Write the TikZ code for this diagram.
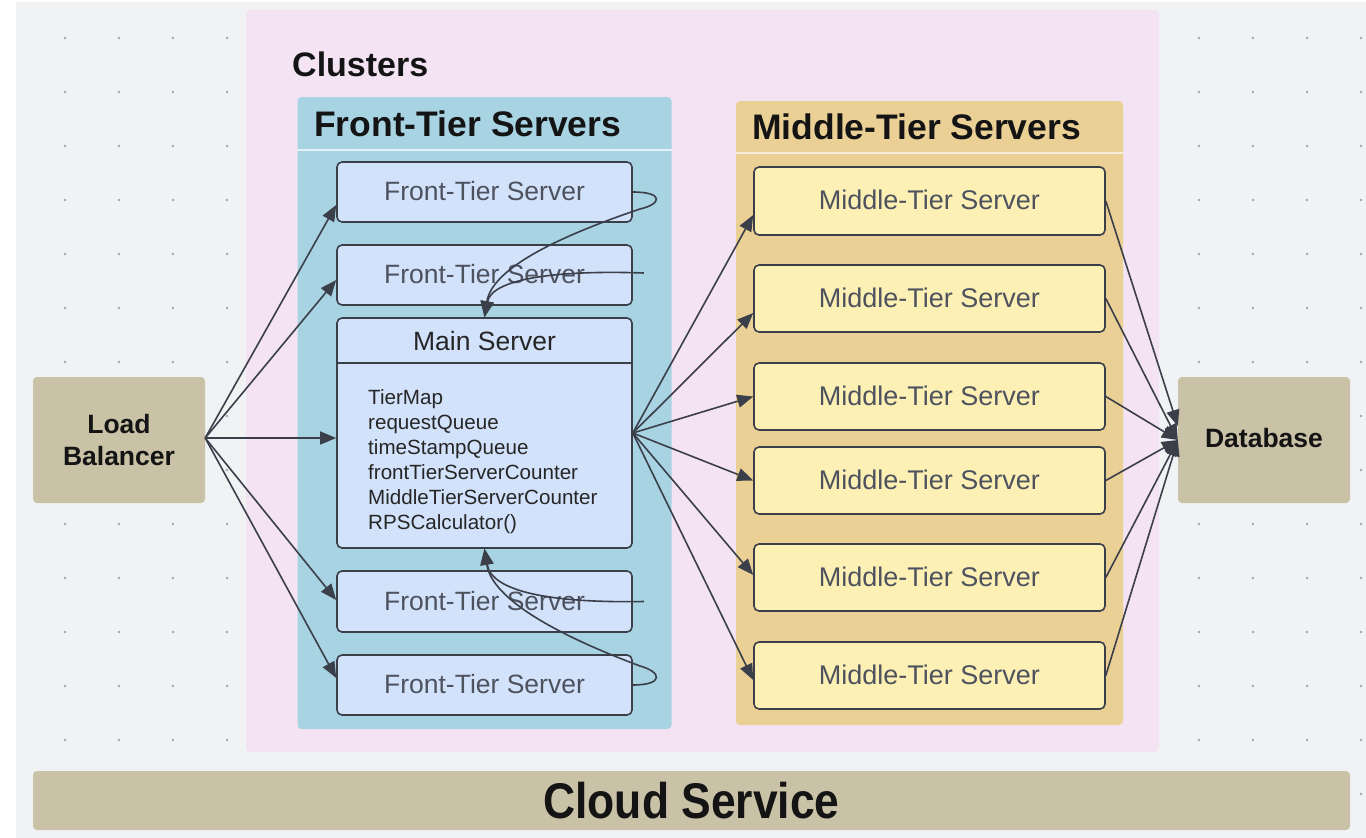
\documentclass[tikz,border=0pt]{standalone}
\usepackage{fontspec}
\usepackage{graphicx}
\setmainfont{Liberation Sans}
\usetikzlibrary{arrows.meta,calc}
\definecolor{bgc}{HTML}{F1F2F4}
\definecolor{dotc}{HTML}{A3A5AB}
\definecolor{pinkc}{HTML}{F3E3F3}
\definecolor{ftcont}{HTML}{A8D3E3}
\definecolor{ftfill}{HTML}{D3E2FB}
\definecolor{mtcont}{HTML}{EBD096}
\definecolor{mtfill}{HTML}{FDF0B4}
\definecolor{tanc}{HTML}{C9C2A6}
\definecolor{edgec}{HTML}{3B3F4A}
\definecolor{srvtext}{HTML}{4D525E}
\definecolor{darktext}{HTML}{141414}
\tikzset{
  srv/.style={draw=edgec, line width=1.6pt, rounded corners=5pt, inner sep=0pt,
    text=srvtext, font=\fontsize{26.5}{30}\selectfont},
  ftsrv/.style={srv, fill=ftfill, minimum width=295pt, minimum height=60pt},
  mtsrv/.style={srv, fill=mtfill, minimum width=351pt, minimum height=67pt, font=\fontsize{27}{30}\selectfont},
  tanbox/.style={fill=tanc, rounded corners=4pt, inner sep=0pt, align=center,
    text=darktext, font=\bfseries\fontsize{26.5}{32}\selectfont},
  cont/.style={rounded corners=4pt, inner sep=0pt},
  conn/.style={draw=edgec, line width=1.6pt, -{Triangle[length=16pt,width=13pt]}},
  ttl/.style={font=\bfseries\fontsize{35.5}{40}\selectfont, anchor=base west,
    inner sep=0pt, text=darktext},
  hdrline/.style={draw=white!70!ftcont, line width=1.4pt}
}
\begin{document}
\begin{tikzpicture}[x=1pt,y=-1pt]
\useasboundingbox (0,0) rectangle (1366,838);
\fill[white] (0,0) rectangle (1366,838);
\fill[bgc] (16,2) rectangle (1366,838);
% dot grid
\foreach \gx in {65,119,...,1366}{
  \foreach \gy in {38,92,...,800}{
    \fill[dotc] (\gx,\gy) circle (1.3pt);
  }
}
% clusters
\node (clusters) [cont, fill=pinkc, minimum width=913pt, minimum height=742pt] at (702.5,381) {};
\node (clusterttl) [ttl, font=\bfseries\fontsize{34}{40}\selectfont] at (292,76) {Clusters};
% front tier container
\node (ftc) [cont, fill=ftcont, minimum width=374pt, minimum height=632pt] at (484.5,413) {};
\draw[hdrline] (ftc.west |- 0,150) -- (ftc.east |- 0,150);
\node (ftttl) [ttl] at (314,136) {Front-Tier Servers};
% middle tier container
\node (mtc) [cont, fill=mtcont, minimum width=387pt, minimum height=624pt] at (929.5,413) {};
\draw[hdrline, draw=white!60!mtcont] (mtc.west |- 0,153) -- (mtc.east |- 0,153);
\node (mtttl) [ttl] at (752,139) {Middle-Tier Servers};
% front tier servers
\node (ft1) [ftsrv] at (484.5,192) {\raisebox{2pt}{Front-Tier Server}};
\node (ft2) [ftsrv] at (484.5,275) {\raisebox{2pt}{Front-Tier Server}};
\node (ft3) [ftsrv, minimum height=61pt] at (484.5,601.5) {\raisebox{2pt}{Front-Tier Server}};
\node (ft4) [ftsrv] at (484.5,685) {\raisebox{2pt}{Front-Tier Server}};
% main server
\node (main) [srv, fill=ftfill, minimum width=295pt, minimum height=230pt] at (484.5,433) {};
\draw[draw=edgec, line width=1.6pt] ($(main.north west)+(0,46)$) -- ($(main.north east)+(0,46)$);
\node (mainttl) [font=\fontsize{26.5}{30}\selectfont, text=black!85, inner sep=0pt] at (484.5,341) {Main Server};
\node (mainlist) [anchor=north west, inner sep=0pt, align=left, text=black!85,
  font=\fontsize{20.6}{25}\selectfont] at (368,389)
  {TierMap\\requestQueue\\timeStampQueue\\frontTierServerCounter\\MiddleTierServerCounter\\RPSCalculator()};
% middle tier servers
\node (mt1) [mtsrv, minimum height=68pt] at (929.5,201) {\raisebox{2pt}{Middle-Tier Server}};
\node (mt2) [mtsrv] at (929.5,298.5) {\raisebox{2pt}{Middle-Tier Server}};
\node (mt3) [mtsrv] at (929.5,396.5) {\raisebox{2pt}{Middle-Tier Server}};
\node (mt4) [mtsrv] at (929.5,480.5) {\raisebox{2pt}{Middle-Tier Server}};
\node (mt5) [mtsrv] at (929.5,577.5) {\raisebox{2pt}{Middle-Tier Server}};
\node (mt6) [mtsrv] at (929.5,675.5) {\raisebox{2pt}{Middle-Tier Server}};
% side boxes
\node (lb) [tanbox, minimum width=172pt, minimum height=126pt] at (119,440) {Load\\Balancer};
\node (db) [tanbox, minimum width=172pt, minimum height=126pt] at (1264,440) {\raisebox{4pt}{Database}};
\node (cloud) [tanbox, minimum width=1317pt, minimum height=59pt, font=\bfseries\fontsize{44}{50}\selectfont] at (691.5,800.5) {\scalebox{1.01}[1.14]{Cloud Service}};
% load balancer connectors
\coordinate (lbo) at ([yshift=2pt]lb.east);
\draw[conn] (lbo) -- ([yshift=-13pt]ft1.west);
\draw[conn] (lbo) -- ([yshift=-5pt]ft2.west);
\draw[conn] (lbo) -- ([yshift=-5pt]main.west);
\draw[conn] (lbo) -- ([yshift=1.5pt]ft3.west);
\draw[conn] (lbo) -- ([yshift=7pt]ft4.west);
% main to middle tier
\draw[conn] (main.east) -- ([yshift=-14pt]mt1.west);
\draw[conn] (main.east) -- ([yshift=-14.5pt]mt2.west);
\draw[conn] (main.east) -- (mt3.west);
\draw[conn] (main.east) -- (mt4.west);
\draw[conn] (main.east) -- ([yshift=2.5pt]mt5.west);
\draw[conn] (main.east) -- ([yshift=-4.5pt]mt6.west);
% middle tier to database
\draw[conn] (mt1.east) -- ([yshift=14pt]db.west);
\draw[conn] (mt2.east) -- (db.west);
\draw[conn] (mt3.east) -- (db.west);
\draw[conn] (mt4.east) -- (db.west);
\draw[conn] (mt5.east) -- (db.west);
\draw[conn] (mt6.east) -- (db.west);
% front tier loops to main server
\coordinate (ft2src) at ([xshift=11pt,yshift=2pt]ft2.east);
\coordinate (ft3src) at ([xshift=11pt]ft3.east);
\draw[conn] (ft1.east) .. controls (664,192) and (662,204) .. (640,209)
  .. controls (560,236) and (492,268) .. (main.north);
\draw[conn] (ft2src) .. controls (560,270) and (492,278) .. (main.north);
\draw[conn] (ft3src) .. controls (560,603) and (492,594) .. (main.south);
\draw[conn] (ft4.east) .. controls (664,685) and (662,672) .. (640,666)
  .. controls (560,636) and (492,600) .. (main.south);
\end{tikzpicture}
\end{document}
